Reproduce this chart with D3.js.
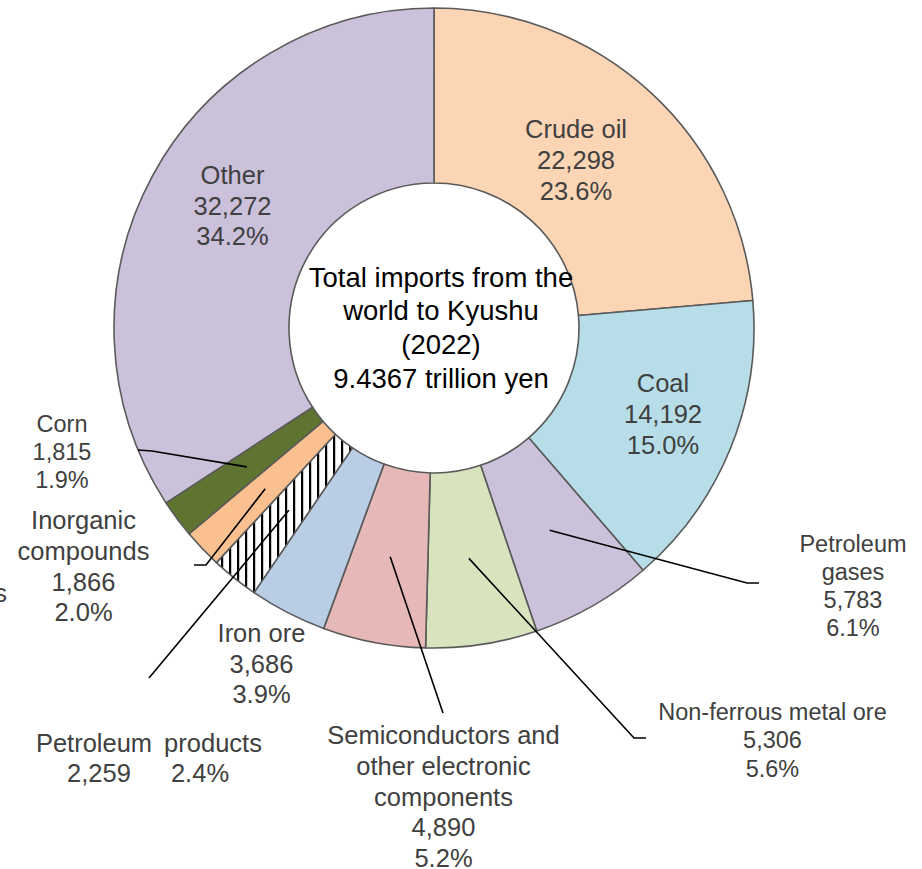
<!DOCTYPE html>
<html>
<head>
<meta charset="utf-8">
<script src="https://cdn.jsdelivr.net/npm/d3@7"></script>
<style>
  html, body { margin: 0; padding: 0; background: #fff; }
  svg { display: block; font-family: Arial, "Liberation Sans", sans-serif; }
</style>
</head>
<body>
<svg id="chart"></svg>
<script>
// ---- data : imports to Kyushu 2022 (100 million yen) ----
const categories = [
  "Crude oil", "Coal", "Petroleum gases", "Non-ferrous metal ore",
  "Semiconductors and other electronic components", "Iron ore",
  "Petroleum products", "Inorganic compounds", "Corn", "Other"
];
const values = [22298, 14192, 5783, 5306, 4890, 3686, 2259, 1866, 1815, 32272];
const centerTitle = ["Total imports from the", "world to Kyushu", "(2022)", "9.4367 trillion yen"];

// ---- styles ----
const colors = {
  "Crude oil": "#fcd5b5",
  "Coal": "#b7dee8",
  "Petroleum gases": "#ccc1da",
  "Non-ferrous metal ore": "#d7e4bd",
  "Semiconductors and other electronic components": "#e6b9b8",
  "Iron ore": "#b9cde5",
  "Petroleum products": "url(#hatch)",
  "Inorganic compounds": "#fac090",
  "Corn": "#5f7431",
  "Other": "#ccc1da"
};

// label placement (text lines, centre, font size, line gap, leader bends)
const labelLayout = {
  "Crude oil": { x: 576, y: 129.5, size: 25.5, gap: 30.8, lines: ["Crude oil"] },
  "Coal": { x: 663, y: 383.5, size: 25.5, gap: 31, lines: ["Coal"] },
  "Petroleum gases": { x: 853, y: 543.5, size: 23.5, gap: 28, lines: ["Petroleum", "gases"],
    leader: [[747, 583], [759, 583]] },
  "Non-ferrous metal ore": { x: 772.5, y: 711.5, size: 23.5, gap: 28.5, lines: ["Non-ferrous metal ore"],
    leader: [[634, 738], [646, 738]] },
  "Semiconductors and other electronic components": { x: 443.5, y: 735.5, size: 25.5, gap: 30.6,
    lines: ["Semiconductors and", "other electronic", "components"], leader: [[443, 713]] },
  "Iron ore": { x: 261.5, y: 633, size: 25.5, gap: 30.6, lines: ["Iron ore"] },
  "Petroleum products": { split: true, y: 743, size: 25.5, gap: 30, cols: [94, 213], valueCols: [99, 200],
    lines: ["Petroleum", "products"], leader: [[149, 678]] },
  "Inorganic compounds": { x: 83.5, y: 520.5, size: 25.5, gap: 30.6, lines: ["Inorganic", "compounds"],
    leader: [[206, 565], [194, 565]] },
  "Corn": { x: 62, y: 423.5, size: 23.5, gap: 28.2, lines: ["Corn"],
    leader: [[152, 451], [138, 450]] },
  "Other": { x: 232.5, y: 175, size: 25.5, gap: 30.6, lines: ["Other"] }
};

const width = 922;
const height = 869;
const cx = 434;
const cy = 328;
const outerR = 320;
const innerR = 145;
const leaderR = 233;

const total = d3.sum(values);
const fmtValue = d3.format(",");
const fmtPct = d3.format(".1%");

const svg = d3.select("#chart").attr("width", width).attr("height", height);
svg.append("rect").attr("width", width).attr("height", height).attr("fill", "#fff");

// hatch for petroleum products
const defs = svg.append("defs");
const hatch = defs.append("pattern")
  .attr("id", "hatch")
  .attr("patternUnits", "userSpaceOnUse")
  .attr("width", 8)
  .attr("height", 8);
hatch.append("rect").attr("width", 8).attr("height", 8).attr("fill", "#fff");
hatch.append("rect").attr("x", 3).attr("width", 2.2).attr("height", 8).attr("fill", "#000");

const pie = d3.pie().sort(null).value((d) => d.value);
const arcs = pie(categories.map((c, i) => ({ name: c, value: values[i] })));

const arc = d3.arc().innerRadius(innerR).outerRadius(outerR);
const leaderArc = d3.arc().innerRadius(leaderR).outerRadius(leaderR);

const g = svg.append("g").attr("transform", `translate(${cx},${cy})`);

// slices
g.selectAll("path.slice")
  .data(arcs)
  .join("path")
  .attr("class", "slice")
  .attr("d", arc)
  .attr("fill", (d) => colors[d.data.name])
  .attr("stroke", "#5a5a5a")
  .attr("stroke-width", 1.6)
  .attr("stroke-linejoin", "round");

// leader lines
const line = d3.line();
svg.append("g")
  .selectAll("path")
  .data(arcs.filter((d) => labelLayout[d.data.name].leader))
  .join("path")
  .attr("d", (d) => {
    const [sx, sy] = leaderArc.centroid(d);
    return line([[cx + sx, cy + sy], ...labelLayout[d.data.name].leader]);
  })
  .attr("fill", "none")
  .attr("stroke", "#000")
  .attr("stroke-width", 1.6);

// labels
const labels = svg.append("g").attr("fill", "#404040");
arcs.forEach((d) => {
  const L = labelLayout[d.data.name];
  const valueText = fmtValue(d.data.value);
  const pctText = fmtPct(d.data.value / total);
  const text = labels.append("text")
    .attr("text-anchor", "middle")
    .attr("font-size", L.size);

  if (L.split) {
    // name on one row, value and share side by side below
    const rows = [L.lines, [valueText, pctText]];
    rows.forEach((row, ri) => {
      row.forEach((t, ci) => {
        text.append("tspan")
          .attr("x", ri === 0 ? L.cols[ci] : L.valueCols[ci])
          .attr("y", L.y + ri * L.gap)
          .attr("dy", "0.35em")
          .text(t);
      });
    });
    return;
  }

  const all = [...L.lines, valueText, pctText];
  text.selectAll("tspan")
    .data(all)
    .join("tspan")
    .attr("x", L.x)
    .attr("y", (t, i) => L.y + i * L.gap)
    .attr("dy", "0.35em")
    .text((t) => t);
});

// cut-off label of the neighbouring chart at the left edge
svg.append("text")
  .attr("x", 7)
  .attr("y", 593)
  .attr("dy", "0.35em")
  .attr("text-anchor", "end")
  .attr("font-size", 25.5)
  .attr("fill", "#404040")
  .text("products");

// centre title
svg.append("text")
  .attr("text-anchor", "middle")
  .attr("font-size", 27.5)
  .attr("fill", "#000")
  .selectAll("tspan")
  .data(centerTitle)
  .join("tspan")
  .attr("x", 441)
  .attr("y", (t, i) => 277 + i * 33.7)
  .attr("dy", "0.35em")
  .text((t) => t);
</script>
</body>
</html>
